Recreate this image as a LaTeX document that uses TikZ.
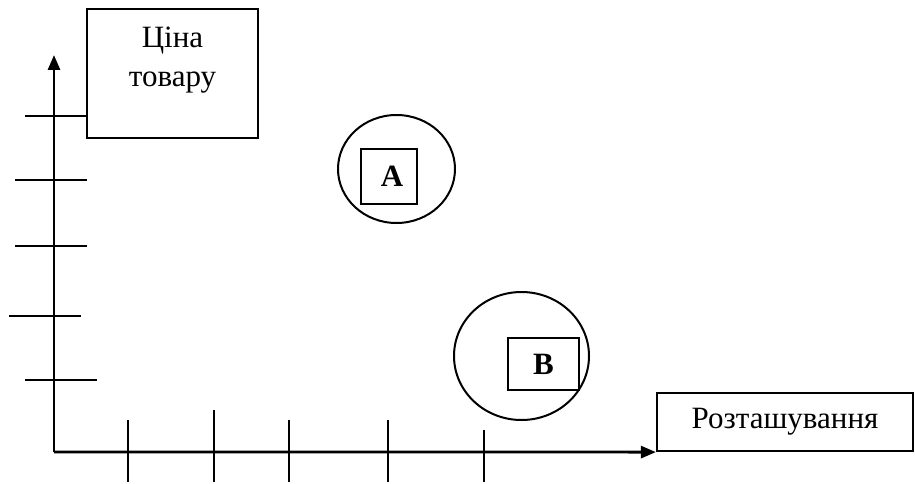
\documentclass[tikz,border=0pt]{standalone}
\usepackage{fontspec}
\setmainfont{Liberation Serif}
\usetikzlibrary{arrows.meta,shapes.geometric}
\begin{document}
\begin{tikzpicture}[x=1pt,y=-1pt,
  axis/.style={line width=2.8pt,-{Triangle[length=15pt,width=12pt]}},
  tick/.style={line width=2.4pt},
  labelbox/.style={draw,line width=2.2pt,inner sep=0pt,align=center},
  labeltext/.style={inner sep=0pt,align=center,
    font=\fontsize{31}{39}\selectfont},
  zone/.style={draw,ellipse,line width=2pt,inner sep=0pt},
  firm/.style={draw,rectangle,line width=2pt,inner sep=0pt,
    font=\fontsize{31}{34}\selectfont\bfseries}]
\useasboundingbox (0,0) rectangle (915,484);
% axis labels
\node[labelbox,minimum width=171pt,minimum height=129pt] (price) at (172.5,73.5) {};
\node[labeltext] (pricetext) at (172.5,60) {Ціна\\товару};
\node[labelbox,minimum width=256pt,minimum height=58pt,labeltext] (place) at (785,422) {Розташування};
% axes
\coordinate (o) at (54,452);
\coordinate (ytop) at (54,55);
\draw[axis] (o) -- (ytop);
\draw[axis] (o) -- (place.south west);
% ticks on the price axis
\coordinate (y1a) at (25,116);
\draw[tick] (y1a) -- (price.west |- y1a);
\coordinate (y2a) at (15,180); \coordinate (y2b) at (87,180);
\draw[tick] (y2a) -- (y2b);
\coordinate (y3a) at (15,246); \coordinate (y3b) at (87,246);
\draw[tick] (y3a) -- (y3b);
\coordinate (y4a) at (9,316); \coordinate (y4b) at (81,316);
\draw[tick] (y4a) -- (y4b);
\coordinate (y5a) at (25,380); \coordinate (y5b) at (97,380);
\draw[tick] (y5a) -- (y5b);
% ticks on the location axis
\coordinate (x1a) at (128,420); \coordinate (x1b) at (128,482);
\draw[tick] (x1a) -- (x1b);
\coordinate (x2a) at (214,410); \coordinate (x2b) at (214,482);
\draw[tick] (x2a) -- (x2b);
\coordinate (x3a) at (289,420); \coordinate (x3b) at (289,482);
\draw[tick] (x3a) -- (x3b);
\coordinate (x4a) at (388,420); \coordinate (x4b) at (388,482);
\draw[tick] (x4a) -- (x4b);
\coordinate (x5a) at (484,430); \coordinate (x5b) at (484,482);
\draw[tick] (x5a) -- (x5b);
% firms and their market zones
\node[zone,minimum width=117pt,minimum height=108pt] (zoneA) at (396.5,169) {};
\node[firm,minimum width=56pt,minimum height=55pt] (firmA) at (389,176.5) {\raisebox{-5pt}{\hspace{6pt}A}};
\node[zone,minimum width=135pt,minimum height=128pt] (zoneB) at (521.5,356) {};
\node[firm,minimum width=71pt,minimum height=52pt] (firmB) at (543.5,364) {\raisebox{-5pt}{B}};
\end{tikzpicture}
\end{document}
